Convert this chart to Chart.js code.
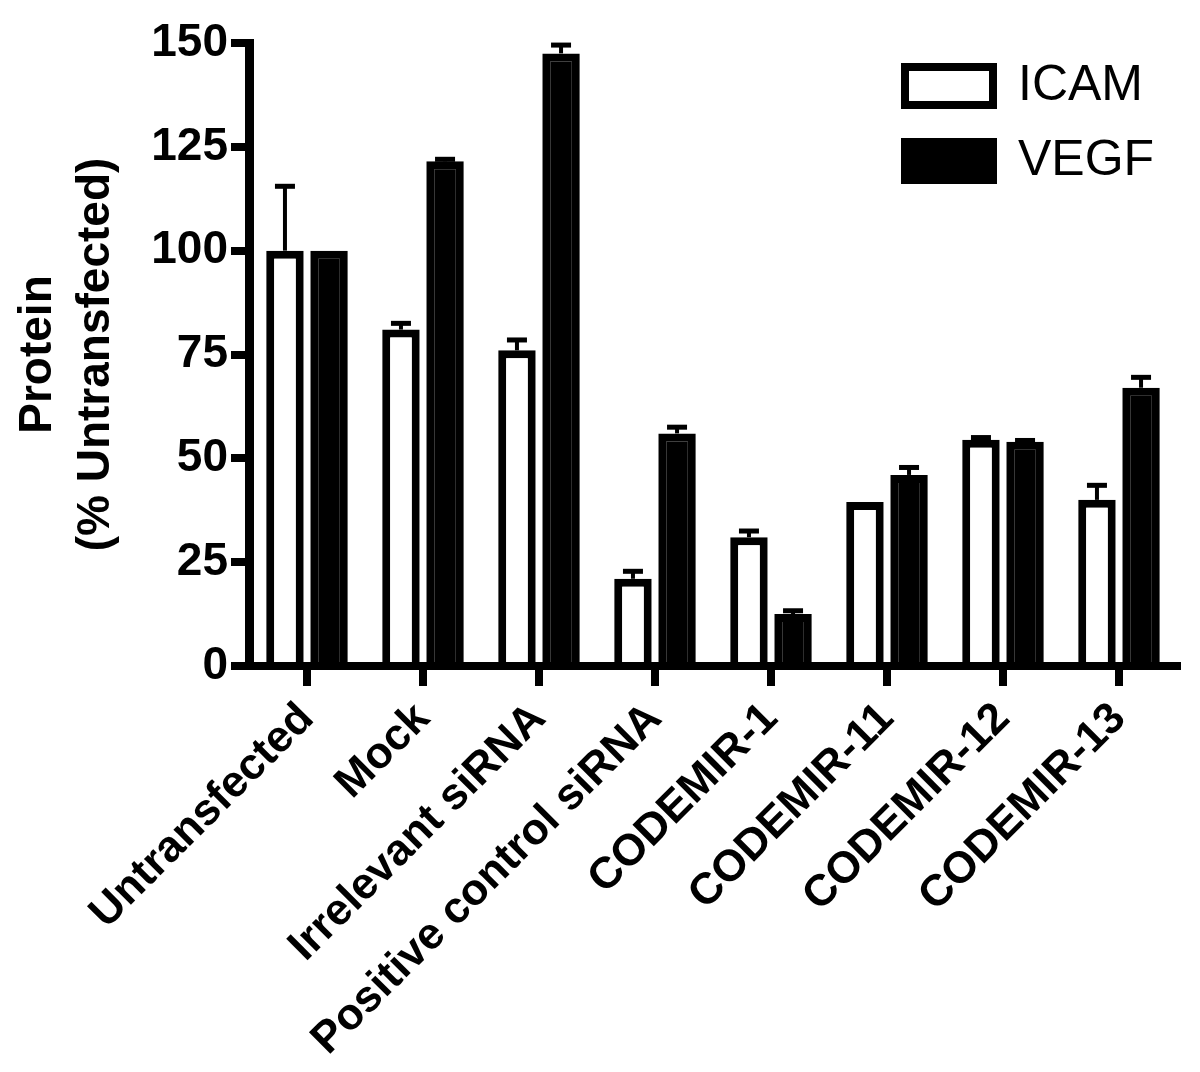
<!DOCTYPE html>
<html>
<head>
<meta charset="utf-8">
<script src="https://cdn.jsdelivr.net/npm/chart.js@4"></script>
<style>
  html, body { margin: 0; padding: 0; background: #fff; }
  #wrap { width: 1200px; height: 1072px; }
</style>
</head>
<body>
<div id="wrap"><canvas id="grafico" width="1200" height="1072"></canvas></div>
<script>
// categorias e valores
const categorias = ['Untransfected', 'Mock', 'Irrelevant siRNA', 'Positive control siRNA',
  'CODEMIR-1', 'CODEMIR-11', 'CODEMIR-12', 'CODEMIR-13'];
const icam = [100, 81, 76, 21, 31, 39.5, 54.5, 40];
const icamErro = [115.5, 82.5, 78.5, 22.8, 32.5, 39.5, 55, 43.5];
const vegf = [100, 121.5, 147.5, 56, 12.5, 46, 54, 67];
const vegfErro = [100, 122, 149.5, 57.5, 13.3, 47.8, 54.3, 69.5];
const ticksY = [0, 25, 50, 75, 100, 125, 150];

const fonte = '"Liberation Sans", Arial, Helvetica, sans-serif';
Chart.defaults.font.family = fonte;
Chart.defaults.color = '#000';

// barras de erro (só para cima, como no original)
const barrasErro = {
  id: 'barrasErro',
  afterDatasetsDraw(chart) {
    const ctx = chart.ctx;
    const y = chart.scales.y;
    const erros = [icamErro, vegfErro];
    chart.data.datasets.forEach((ds, di) => {
      const meta = chart.getDatasetMeta(di);
      meta.data.forEach((bar, i) => {
        const topo = erros[di][i];
        if (topo == null || topo <= ds.data[i]) return;
        const yTopo = y.getPixelForValue(topo);
        ctx.save();
        ctx.strokeStyle = '#000';
        ctx.lineWidth = 4;
        ctx.beginPath();
        ctx.moveTo(bar.x, bar.y);
        ctx.lineTo(bar.x, yTopo);
        ctx.stroke();
        ctx.fillStyle = '#000';
        ctx.fillRect(bar.x - 10, yTopo - 2.5, 20, 5);
        ctx.restore();
      });
    });
  }
};

// coloca a legenda no canto superior direito da área do gráfico
const posLegenda = {
  id: 'posLegenda',
  afterLayout(chart) {
    const lg = chart.legend;
    if (!lg) return;
    lg.left = 880;
    lg.top = 36;
  }
};

const ctx = document.getElementById('grafico').getContext('2d');
new Chart(ctx, {
  type: 'bar',
  data: {
    labels: categorias,
    datasets: [
      {
        label: 'ICAM',
        data: icam,
        backgroundColor: '#fff',
        borderColor: '#000',
        borderWidth: 8,
        borderSkipped: 'start'
      },
      {
        label: 'VEGF',
        data: vegf,
        backgroundColor: '#000',
        borderColor: '#000',
        borderWidth: 8,
        borderSkipped: 'start'
      }
    ]
  },
  options: {
    responsive: false,
    animation: false,
    devicePixelRatio: 1,
    categoryPercentage: 0.76,
    barPercentage: 0.85,
    layout: { padding: { left: 10, top: 43, right: 23, bottom: 0 } },
    plugins: {
      tooltip: { enabled: false },
      legend: {
        position: 'chartArea',
        align: 'start',
        labels: {
          boxWidth: 88,
          boxHeight: 38,
          padding: 25,
          color: '#000',
          font: { size: 50, weight: 'normal' }
        }
      }
    },
    scales: {
      x: {
        z: 1,
        grid: {
          offset: false,
          drawOnChartArea: false,
          tickLength: 20,
          lineWidth: 8,
          color: '#000'
        },
        border: { display: true, width: 8, color: '#000' },
        ticks: {
          autoSkip: false,
          maxRotation: 45,
          minRotation: 45,
          padding: 7,
          color: '#000',
          font: { size: 44, weight: 'bold' }
        },
        afterFit(scale) { scale.height = 406; }
      },
      y: {
        z: 1,
        min: 0,
        max: 150,
        afterBuildTicks(scale) { scale.ticks = ticksY.map(v => ({ value: v })); },
        grid: {
          drawOnChartArea: false,
          tickLength: 18,
          lineWidth: 8,
          color: '#000'
        },
        border: { display: true, width: 9, color: '#000' },
        ticks: {
          padding: 3,
          color: '#000',
          font: { size: 46, weight: 'bold' }
        },
        title: {
          display: true,
          text: ['Protein', '(% Untransfected)'],
          color: '#000',
          padding: { top: 0, bottom: 0 },
          font: { size: 46, weight: 'bold', lineHeight: 1.25 }
        },
        afterFit(scale) { scale.width = 239; }
      }
    }
  },
  plugins: [barrasErro, posLegenda]
});
</script>
</body>
</html>
